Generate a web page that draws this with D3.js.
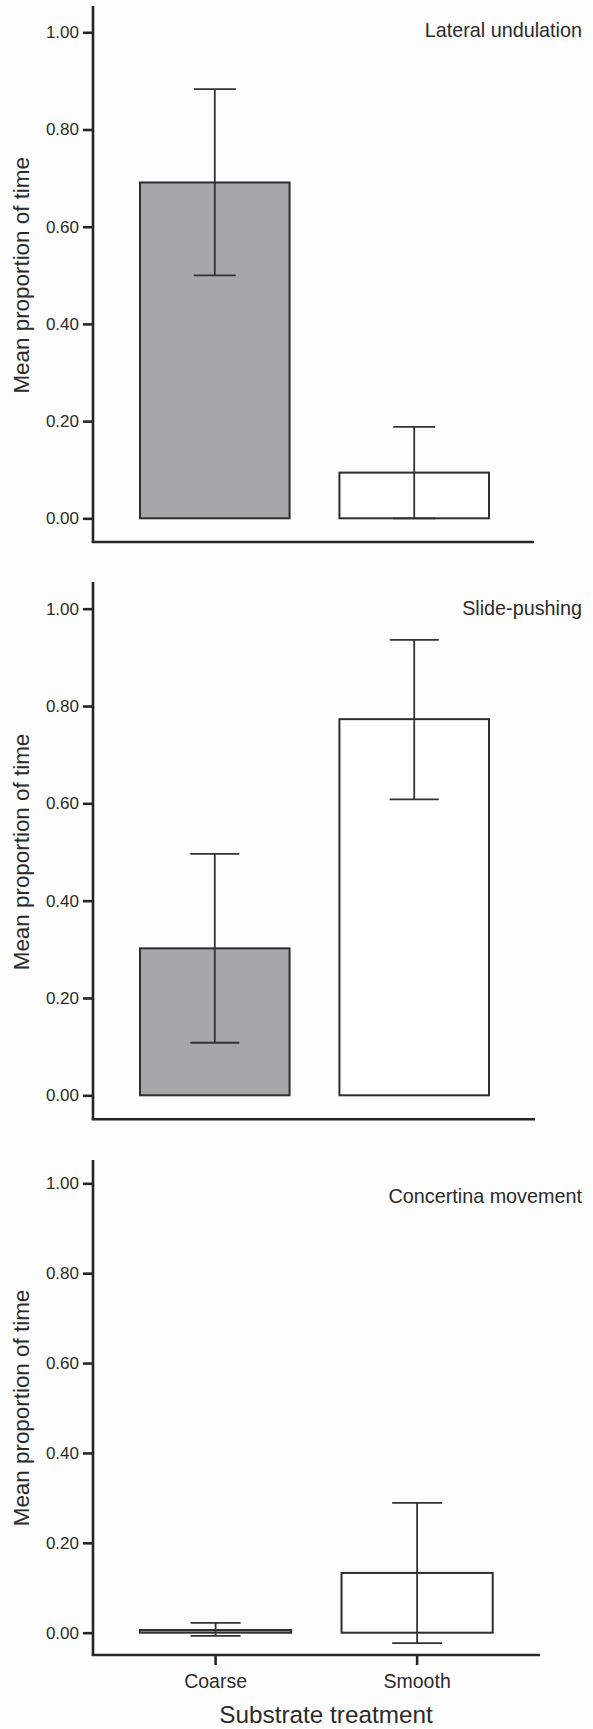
<!DOCTYPE html>
<html>
<head>
<meta charset="utf-8">
<style>
body { margin: 0; background: #fdfdfd; }
svg { display: block; font-family: "Liberation Sans", Arial, sans-serif; }
.axis text { fill: #2b2b2b; }
.axis line, .axis path { stroke: #262626; }
</style>
<script src="https://d3js.org/d3.v7.min.js"></script>
</head>
<body>
<svg width="593" height="1729"></svg>
<script>

// data
var categories = ["Coarse", "Smooth"];
var panelTitles = ["Lateral undulation", "Slide-pushing", "Concertina movement"];
var meanValues  = [[0.691, 0.094], [0.302, 0.773], [0.006, 0.133]];
var upperValues = [[0.883, 0.188], [0.496, 0.936], [0.022, 0.289]];
var lowerValues = [[0.500, 0.000], [0.108, 0.608], [-0.007, -0.023]];
var yTicks = [0, 0.2, 0.4, 0.6, 0.8, 1.0];
var barFills = ["#a6a7a9", "#ffffff"];

var svg = d3.select("svg");
var axisX = 93;

// per-panel placement
var panels = [
  {top: 6,    y1: 32.3,   y0: 518.3,  base: 542,    xEnd: 534, barL: 140, barR: 489,   cap: 42},
  {top: 582,  y1: 608.7,  y0: 1095.3, base: 1119.3, xEnd: 535, barL: 140, barR: 489,   cap: 49},
  {top: 1160, y1: 1183.3, y0: 1632.7, base: 1655,   xEnd: 540, barL: 140, barR: 492.7, cap: 50}
];

panels.forEach(function(p, i) {
  var g = svg.append("g");

  var y = d3.scaleLinear().domain([0, 1]).range([p.y0, p.y1]);
  var x = d3.scaleBand().domain(categories).range([p.barL, p.barR])
      .paddingInner(0.25).paddingOuter(0);

  var rows = categories.map(function(c, j) {
    return {cat: c, mean: meanValues[i][j], hi: upperValues[i][j], lo: lowerValues[i][j], fill: barFills[j]};
  });

  // bars
  g.selectAll(".bar").data(rows).enter().append("rect")
      .attr("class", "bar")
      .attr("x", function(d) { return x(d.cat); })
      .attr("width", x.bandwidth())
      .attr("y", function(d) { return y(d.mean); })
      .attr("height", function(d) { return y(0) - y(d.mean); })
      .attr("fill", function(d) { return d.fill; })
      .attr("stroke", "#2e2e2e")
      .attr("stroke-width", 2);

  // error bars
  var eb = g.selectAll(".err").data(rows).enter().append("g")
      .attr("class", "err")
      .attr("stroke", "#333")
      .attr("stroke-width", 1.8);
  eb.append("line")
      .attr("x1", function(d) { return x(d.cat) + x.bandwidth() / 2; })
      .attr("x2", function(d) { return x(d.cat) + x.bandwidth() / 2; })
      .attr("y1", function(d) { return y(d.lo); })
      .attr("y2", function(d) { return y(d.hi); });
  ["hi", "lo"].forEach(function(k) {
    eb.append("line")
        .attr("x1", function(d) { return x(d.cat) + x.bandwidth() / 2 - p.cap / 2; })
        .attr("x2", function(d) { return x(d.cat) + x.bandwidth() / 2 + p.cap / 2; })
        .attr("y1", function(d) { return y(d[k]); })
        .attr("y2", function(d) { return y(d[k]); });
  });

  // y axis
  var ya = g.append("g")
      .attr("class", "axis")
      .attr("transform", "translate(" + axisX + ",0)")
      .call(d3.axisLeft(y).tickValues(yTicks).tickFormat(d3.format(".2f"))
        .tickSize(10).tickSizeOuter(0).tickPadding(4));
  ya.select(".domain").remove();
  ya.selectAll("line").attr("stroke-width", 2.6);
  ya.selectAll("text").attr("font-size", 17).attr("font-family", "Liberation Sans, Arial, sans-serif");

  // axis lines
  g.append("line")
      .attr("x1", axisX).attr("x2", axisX)
      .attr("y1", p.top).attr("y2", p.base)
      .attr("stroke", "#262626").attr("stroke-width", 2.6);
  g.append("line")
      .attr("x1", axisX - 1.3).attr("x2", p.xEnd)
      .attr("y1", p.base).attr("y2", p.base)
      .attr("stroke", "#262626").attr("stroke-width", 2.6);

  // category ticks only on the bottom panel
  if (i === panels.length - 1) {
    var xa = g.append("g")
        .attr("class", "axis")
        .attr("transform", "translate(0," + p.base + ")")
        .call(d3.axisBottom(x).tickSize(10).tickSizeOuter(0).tickPadding(9));
    xa.select(".domain").remove();
    xa.selectAll("line").attr("stroke-width", 2.6);
    xa.selectAll("text").attr("font-size", 19.5).attr("font-family", "Liberation Sans, Arial, sans-serif");
  }

  // panel title
  g.append("text")
      .attr("x", 582)
      .attr("y", p.top + [30.7, 33, 43.3][i])
      .attr("text-anchor", "end")
      .attr("font-size", 19.8)
      .attr("fill", "#2b2b2b")
      .text(panelTitles[i]);

  // y label
  var mid = (p.y0 + p.y1) / 2;
  g.append("text")
      .attr("transform", "translate(28.5," + mid + ") rotate(-90)")
      .attr("text-anchor", "middle")
      .attr("font-size", 22.4)
      .attr("fill", "#2b2b2b")
      .text("Mean proportion of time");
});

svg.append("text")
    .attr("x", 326)
    .attr("y", 1723)
    .attr("text-anchor", "middle")
    .attr("font-size", 24.3)
    .attr("fill", "#2b2b2b")
    .text("Substrate treatment");

</script>
</body>
</html>
